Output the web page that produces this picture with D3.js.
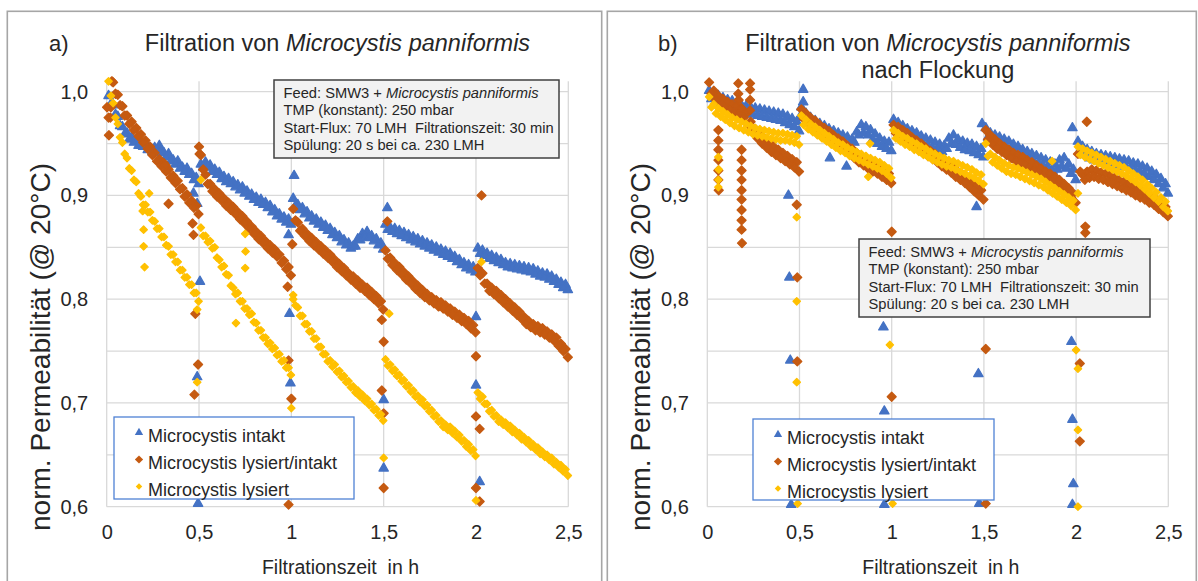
<!DOCTYPE html>
<html>
<head>
<meta charset="utf-8">
<script src="https://cdn.jsdelivr.net/npm/d3@7"></script>
<style>
  body { margin: 0; background: #fff; }
  svg { display: block; font-family: "Liberation Sans", Arial, sans-serif; }
</style>
</head>
<body>
<svg id="chart" width="1198" height="581"></svg>
<script>
// axis values
const xTicks = [0, 0.5, 1, 1.5, 2, 2.5];
const yTicks = [0.6, 0.7, 0.8, 0.9, 1.0];
const yGrid = [0.6, 0.65, 0.7, 0.75, 0.8, 0.85, 0.9, 0.95, 1.0];

const seriesNames = ['Microcystis intakt', 'Microcystis lysiert/intakt', 'Microcystis lysiert'];

// filtration cycles of 30 min; time inside a cycle in h
// each cycle is read as an upper and a lower edge of the scattered band
const cycleStarts = [0, 0.5, 1.0, 1.5, 2.0];
const offsetsUpper = [0.0100, 0.0350, 0.0600, 0.0850, 0.1100, 0.1350, 0.1600, 0.1850, 0.2100, 0.2350,
                      0.2600, 0.2850, 0.3100, 0.3350, 0.3600, 0.3850, 0.4100, 0.4350, 0.4600, 0.4850];
const offsetsLower = [0.0225, 0.0475, 0.0725, 0.0975, 0.1225, 0.1475, 0.1725, 0.1975, 0.2225, 0.2475,
                      0.2725, 0.2975, 0.3225, 0.3475, 0.3725, 0.3975, 0.4225, 0.4475, 0.4725, 0.4975];

// ---- a) without flocculation ----
const aIntaktUpper = [
    [0.996, 0.987, 0.976, 0.966, 0.960, 0.956, 0.954, 0.950, 0.951, 0.945, 0.946, 0.948, 0.941, 0.940, 0.934, 0.933, 0.927, 0.926, 0.921, 0.917],
    [0.930, 0.932, 0.929, 0.925, 0.922, 0.918, 0.916, 0.913, 0.910, 0.908, 0.904, 0.901, 0.898, 0.896, 0.893, 0.890, 0.886, 0.882, 0.879, 0.877],
    [0.897, 0.891, 0.888, 0.884, 0.880, 0.877, 0.874, 0.871, 0.868, 0.864, 0.861, 0.857, 0.854, 0.851, 0.858, 0.863, 0.865, 0.861, 0.858, 0.854],
    [0.872, 0.869, 0.868, 0.866, 0.864, 0.862, 0.860, 0.858, 0.856, 0.854, 0.852, 0.850, 0.848, 0.846, 0.844, 0.841, 0.838, 0.835, 0.833, 0.831],
    [0.849, 0.847, 0.844, 0.842, 0.840, 0.838, 0.835, 0.834, 0.833, 0.832, 0.831, 0.830, 0.829, 0.827, 0.825, 0.824, 0.822, 0.819, 0.816, 0.814]
];
const aIntaktLower = [
    [0.988, 0.978, 0.967, 0.959, 0.954, 0.951, 0.948, 0.947, 0.944, 0.942, 0.943, 0.941, 0.937, 0.933, 0.930, 0.926, 0.923, 0.920, 0.915, 0.911],
    [0.927, 0.927, 0.923, 0.920, 0.916, 0.913, 0.911, 0.908, 0.905, 0.902, 0.899, 0.896, 0.893, 0.891, 0.888, 0.884, 0.880, 0.877, 0.874, 0.872],
    [0.890, 0.886, 0.882, 0.878, 0.875, 0.872, 0.869, 0.866, 0.862, 0.859, 0.855, 0.852, 0.849, 0.851, 0.857, 0.860, 0.859, 0.856, 0.852, 0.848],
    [0.867, 0.865, 0.863, 0.861, 0.859, 0.857, 0.855, 0.853, 0.851, 0.849, 0.847, 0.845, 0.843, 0.841, 0.839, 0.836, 0.833, 0.830, 0.828, 0.826],
    [0.844, 0.842, 0.839, 0.837, 0.835, 0.833, 0.831, 0.830, 0.829, 0.828, 0.827, 0.826, 0.824, 0.822, 0.821, 0.819, 0.817, 0.814, 0.811, 0.809]
];
const aIntaktExtra = [[0.470, 0.902], [0.490, 0.892], [0.505, 0.817], [0.490, 0.725], [0.495, 0.603],
    [1.015, 0.919], [0.985, 0.862], [0.990, 0.786], [0.995, 0.719], [1.520, 0.888], [1.500, 0.703],
    [1.500, 0.637], [2.000, 0.783], [2.000, 0.717], [2.020, 0.624]];

const aLysIntUpper = [
    [0.975, 1.009, 0.997, 0.986, 0.977, 0.971, 0.965, 0.959, 0.953, 0.947, 0.941, 0.935, 0.931, 0.925, 0.919, 0.914, 0.907, 0.901, 0.895, 0.890],
    [0.939, 0.920, 0.911, 0.906, 0.902, 0.897, 0.893, 0.889, 0.884, 0.880, 0.875, 0.870, 0.865, 0.861, 0.856, 0.852, 0.848, 0.843, 0.837, 0.831],
    [0.887, 0.874, 0.868, 0.863, 0.859, 0.855, 0.851, 0.847, 0.843, 0.838, 0.834, 0.830, 0.825, 0.822, 0.818, 0.814, 0.811, 0.807, 0.803, 0.798],
    [0.847, 0.840, 0.835, 0.831, 0.826, 0.822, 0.817, 0.813, 0.809, 0.805, 0.802, 0.799, 0.797, 0.794, 0.791, 0.788, 0.785, 0.782, 0.779, 0.775],
    [0.830, 0.825, 0.815, 0.811, 0.808, 0.804, 0.800, 0.796, 0.792, 0.788, 0.783, 0.779, 0.776, 0.774, 0.772, 0.769, 0.766, 0.763, 0.757, 0.752]
];
const aLysIntLower = [
    [0.985, 0.998, 0.987, 0.977, 0.969, 0.963, 0.957, 0.951, 0.945, 0.939, 0.933, 0.928, 0.923, 0.917, 0.912, 0.906, 0.899, 0.893, 0.888, 0.882],
    [0.925, 0.911, 0.904, 0.899, 0.895, 0.890, 0.886, 0.882, 0.877, 0.873, 0.868, 0.863, 0.858, 0.854, 0.849, 0.845, 0.841, 0.835, 0.829, 0.823],
    [0.876, 0.866, 0.861, 0.856, 0.852, 0.848, 0.844, 0.840, 0.836, 0.831, 0.827, 0.823, 0.819, 0.815, 0.811, 0.808, 0.804, 0.800, 0.796, 0.790],
    [0.839, 0.833, 0.828, 0.824, 0.819, 0.815, 0.810, 0.806, 0.802, 0.799, 0.796, 0.793, 0.791, 0.788, 0.785, 0.782, 0.779, 0.776, 0.772, 0.768],
    [0.823, 0.815, 0.808, 0.805, 0.801, 0.797, 0.793, 0.789, 0.785, 0.781, 0.776, 0.773, 0.770, 0.768, 0.766, 0.763, 0.760, 0.755, 0.750, 0.744]
];
const aLysIntExtra = [[0.002, 0.985], [0.012, 0.958], [0.020, 0.975], [0.028, 1.010], [0.320, 0.929],
    [0.335, 0.892], [0.465, 0.873], [0.470, 0.862], [0.480, 0.786], [0.495, 0.737], [0.475, 0.708],
    [0.500, 0.947], [0.503, 0.940], [0.980, 0.812], [0.985, 0.741], [1.000, 0.704], [1.005, 0.853],
    [0.985, 0.602], [1.520, 0.875], [1.490, 0.780], [1.500, 0.759], [1.490, 0.712], [1.500, 0.690],
    [1.500, 0.618], [2.030, 0.900], [2.000, 0.745], [2.000, 0.687], [2.020, 0.675], [2.000, 0.618],
    [2.020, 0.605]];

const aLysUpper = [
    [1.010, 0.989, 0.969, 0.951, 0.936, 0.924, 0.913, 0.899, 0.891, 0.884, 0.875, 0.868, 0.860, 0.851, 0.843, 0.836, 0.828, 0.821, 0.814, 0.806],
    [0.869, 0.861, 0.856, 0.850, 0.838, 0.832, 0.823, 0.811, 0.806, 0.798, 0.791, 0.786, 0.777, 0.770, 0.763, 0.758, 0.753, 0.747, 0.741, 0.734],
    [0.804, 0.792, 0.784, 0.776, 0.769, 0.762, 0.754, 0.747, 0.741, 0.737, 0.731, 0.726, 0.721, 0.716, 0.712, 0.708, 0.704, 0.699, 0.694, 0.689],
    [0.742, 0.737, 0.732, 0.727, 0.722, 0.717, 0.712, 0.707, 0.703, 0.698, 0.693, 0.688, 0.683, 0.679, 0.677, 0.673, 0.669, 0.664, 0.660, 0.655],
    [0.710, 0.706, 0.699, 0.693, 0.688, 0.684, 0.681, 0.678, 0.674, 0.671, 0.667, 0.664, 0.660, 0.657, 0.653, 0.650, 0.647, 0.643, 0.640, 0.636]
];
const aLysLower = [
    [0.996, 0.975, 0.956, 0.940, 0.926, 0.915, 0.902, 0.891, 0.884, 0.876, 0.868, 0.860, 0.852, 0.843, 0.836, 0.828, 0.821, 0.814, 0.806, 0.798],
    [0.861, 0.855, 0.849, 0.840, 0.831, 0.824, 0.813, 0.805, 0.798, 0.791, 0.785, 0.778, 0.770, 0.763, 0.757, 0.752, 0.746, 0.740, 0.734, 0.727],
    [0.794, 0.784, 0.776, 0.769, 0.762, 0.754, 0.747, 0.740, 0.735, 0.730, 0.725, 0.720, 0.715, 0.710, 0.706, 0.702, 0.698, 0.693, 0.688, 0.683],
    [0.736, 0.731, 0.726, 0.721, 0.716, 0.711, 0.706, 0.701, 0.697, 0.692, 0.687, 0.682, 0.677, 0.674, 0.671, 0.667, 0.663, 0.658, 0.654, 0.649],
    [0.704, 0.699, 0.692, 0.687, 0.682, 0.679, 0.676, 0.672, 0.669, 0.665, 0.662, 0.658, 0.655, 0.651, 0.648, 0.645, 0.641, 0.638, 0.634, 0.630]
];
const aLysExtra = [[0.195, 0.885], [0.200, 0.867], [0.200, 0.851], [0.205, 0.831], [0.230, 0.902],
    [0.510, 0.915], [0.490, 0.790], [0.490, 0.720], [0.750, 0.863], [0.752, 0.846], [0.750, 0.830],
    [0.700, 0.777], [1.010, 0.800], [1.000, 0.695], [1.530, 0.786], [1.500, 0.647], [2.030, 0.836],
    [2.000, 0.606]];

// ---- b) after flocculation ----
const bIntaktUpper = [
    [1.001, 0.999, 0.996, 0.994, 0.992, 0.991, 0.989, 0.987, 0.986, 0.985, 0.984, 0.983, 0.982, 0.981, 0.980, 0.979, 0.978, 0.976, 0.974, 0.971],
    [0.985, 0.979, 0.975, 0.972, 0.969, 0.967, 0.964, 0.962, 0.960, 0.958, 0.956, 0.954, 0.961, 0.968, 0.966, 0.963, 0.959, 0.955, 0.952, 0.951],
    [0.973, 0.970, 0.967, 0.964, 0.962, 0.960, 0.957, 0.955, 0.953, 0.951, 0.949, 0.948, 0.955, 0.958, 0.954, 0.952, 0.950, 0.949, 0.947, 0.945],
    [0.965, 0.960, 0.958, 0.956, 0.954, 0.952, 0.949, 0.947, 0.944, 0.942, 0.940, 0.938, 0.936, 0.934, 0.932, 0.930, 0.934, 0.936, 0.930, 0.925],
    [0.952, 0.947, 0.944, 0.942, 0.940, 0.939, 0.938, 0.937, 0.936, 0.935, 0.934, 0.933, 0.931, 0.930, 0.928, 0.926, 0.923, 0.920, 0.916, 0.911]
];
const bIntaktLower = [
    [0.993, 0.991, 0.988, 0.986, 0.985, 0.983, 0.981, 0.980, 0.979, 0.978, 0.977, 0.976, 0.975, 0.974, 0.973, 0.972, 0.970, 0.968, 0.966, 0.962],
    [0.975, 0.970, 0.967, 0.964, 0.961, 0.959, 0.956, 0.954, 0.952, 0.950, 0.948, 0.951, 0.958, 0.960, 0.958, 0.954, 0.950, 0.947, 0.945, 0.943],
    [0.965, 0.962, 0.959, 0.956, 0.954, 0.952, 0.949, 0.947, 0.945, 0.943, 0.942, 0.945, 0.950, 0.949, 0.946, 0.944, 0.943, 0.941, 0.939, 0.937],
    [0.956, 0.952, 0.950, 0.948, 0.946, 0.944, 0.941, 0.939, 0.936, 0.934, 0.932, 0.930, 0.928, 0.926, 0.924, 0.925, 0.928, 0.926, 0.921, 0.915],
    [0.943, 0.939, 0.936, 0.934, 0.933, 0.932, 0.931, 0.930, 0.929, 0.928, 0.927, 0.925, 0.924, 0.922, 0.920, 0.918, 0.915, 0.911, 0.907, 0.902]
];
const bIntaktExtra = [[0.440, 0.900], [0.445, 0.821], [0.450, 0.741], [0.455, 0.602], [0.520, 1.002],
    [0.520, 0.990], [0.500, 0.975], [0.665, 0.936], [0.755, 0.928], [0.955, 0.773], [0.960, 0.692],
    [0.960, 0.602], [1.460, 0.889], [1.470, 0.728], [1.475, 0.603], [1.490, 0.969], [1.980, 0.965],
    [1.975, 0.759], [1.980, 0.684], [1.985, 0.622], [1.980, 0.602]];

const bLysIntUpper = [
    [1.009, 1.001, 0.996, 0.993, 0.990, 0.988, 0.986, 0.984, 0.979, 0.971, 0.964, 0.959, 0.955, 0.951, 0.947, 0.944, 0.941, 0.938, 0.935, 0.932],
    [0.983, 0.979, 0.975, 0.972, 0.968, 0.965, 0.962, 0.958, 0.955, 0.952, 0.948, 0.945, 0.941, 0.937, 0.934, 0.931, 0.929, 0.926, 0.923, 0.921],
    [0.968, 0.966, 0.963, 0.960, 0.956, 0.953, 0.950, 0.946, 0.943, 0.940, 0.937, 0.933, 0.930, 0.927, 0.923, 0.920, 0.917, 0.913, 0.909, 0.905],
    [0.963, 0.958, 0.954, 0.950, 0.947, 0.944, 0.941, 0.939, 0.937, 0.934, 0.932, 0.929, 0.926, 0.923, 0.921, 0.918, 0.915, 0.911, 0.907, 0.902],
    [0.940, 0.920, 0.923, 0.925, 0.924, 0.922, 0.921, 0.919, 0.917, 0.915, 0.913, 0.911, 0.908, 0.906, 0.904, 0.901, 0.899, 0.896, 0.892, 0.889]
];
const bLysIntLower = [
    [0.998, 0.992, 0.988, 0.985, 0.982, 0.980, 0.978, 0.975, 0.968, 0.961, 0.955, 0.950, 0.946, 0.942, 0.939, 0.936, 0.933, 0.930, 0.927, 0.923],
    [0.974, 0.970, 0.967, 0.963, 0.960, 0.957, 0.953, 0.950, 0.947, 0.943, 0.940, 0.936, 0.932, 0.929, 0.926, 0.923, 0.921, 0.918, 0.915, 0.912],
    [0.960, 0.958, 0.955, 0.951, 0.948, 0.945, 0.941, 0.938, 0.935, 0.932, 0.928, 0.925, 0.922, 0.918, 0.915, 0.912, 0.908, 0.904, 0.900, 0.896],
    [0.954, 0.949, 0.945, 0.942, 0.939, 0.936, 0.933, 0.931, 0.929, 0.926, 0.924, 0.921, 0.918, 0.915, 0.913, 0.910, 0.906, 0.902, 0.898, 0.893],
    [0.923, 0.915, 0.917, 0.918, 0.916, 0.915, 0.913, 0.911, 0.909, 0.907, 0.905, 0.903, 0.900, 0.898, 0.896, 0.893, 0.891, 0.887, 0.884, 0.880]
];
const bLysIntExtra = [[0.060, 0.963], [0.060, 0.953], [0.060, 0.944], [0.060, 0.934], [0.060, 0.924],
    [0.060, 0.915], [0.062, 0.905], [0.186, 0.944], [0.186, 0.934], [0.186, 0.924], [0.186, 0.915],
    [0.186, 0.905], [0.186, 0.896], [0.186, 0.886], [0.186, 0.876], [0.186, 0.867], [0.188, 0.854],
    [0.168, 1.008], [0.168, 0.998], [0.170, 0.992], [0.232, 1.008], [0.232, 1.002], [0.232, 0.992],
    [0.232, 0.982], [0.485, 0.891], [0.488, 0.821], [0.488, 0.740], [1.000, 0.865], [1.000, 0.706],
    [1.510, 0.752], [1.510, 0.603], [2.058, 0.971], [2.050, 0.870], [2.050, 0.864], [2.020, 0.738],
    [2.020, 0.663]];

const bLysUpper = [
    [0.995, 0.988, 0.984, 0.981, 0.978, 0.975, 0.973, 0.971, 0.969, 0.967, 0.965, 0.964, 0.963, 0.962, 0.961, 0.960, 0.960, 0.959, 0.958, 0.957],
    [0.977, 0.973, 0.969, 0.966, 0.963, 0.960, 0.957, 0.954, 0.951, 0.949, 0.946, 0.944, 0.942, 0.940, 0.938, 0.936, 0.934, 0.932, 0.929, 0.926],
    [0.963, 0.960, 0.957, 0.955, 0.952, 0.950, 0.947, 0.945, 0.942, 0.940, 0.938, 0.936, 0.934, 0.933, 0.931, 0.929, 0.927, 0.925, 0.922, 0.920],
    [0.950, 0.940, 0.937, 0.934, 0.931, 0.929, 0.927, 0.926, 0.924, 0.922, 0.920, 0.918, 0.916, 0.913, 0.910, 0.907, 0.904, 0.901, 0.898, 0.895],
    [0.947, 0.945, 0.943, 0.941, 0.939, 0.937, 0.935, 0.933, 0.931, 0.929, 0.927, 0.924, 0.921, 0.918, 0.915, 0.911, 0.907, 0.903, 0.898, 0.894]
];
const bLysLower = [
    [0.985, 0.979, 0.976, 0.973, 0.970, 0.967, 0.965, 0.963, 0.961, 0.959, 0.958, 0.957, 0.956, 0.955, 0.954, 0.953, 0.953, 0.952, 0.951, 0.949],
    [0.968, 0.964, 0.961, 0.958, 0.955, 0.952, 0.949, 0.946, 0.943, 0.941, 0.938, 0.936, 0.934, 0.932, 0.930, 0.928, 0.926, 0.924, 0.921, 0.917],
    [0.955, 0.952, 0.949, 0.947, 0.944, 0.942, 0.939, 0.937, 0.934, 0.932, 0.930, 0.928, 0.927, 0.925, 0.923, 0.921, 0.919, 0.917, 0.914, 0.911],
    [0.938, 0.932, 0.929, 0.926, 0.923, 0.921, 0.920, 0.918, 0.916, 0.914, 0.912, 0.910, 0.908, 0.905, 0.902, 0.899, 0.896, 0.893, 0.890, 0.886],
    [0.939, 0.937, 0.935, 0.933, 0.931, 0.929, 0.927, 0.925, 0.923, 0.921, 0.919, 0.916, 0.913, 0.910, 0.906, 0.902, 0.898, 0.894, 0.889, 0.885]
];
const bLysExtra = [[0.060, 0.937], [0.062, 0.925], [0.060, 0.915], [0.060, 0.908], [0.485, 0.879],
    [0.485, 0.798], [0.485, 0.720], [0.490, 0.603], [0.882, 0.950], [0.873, 0.918], [0.990, 0.756],
    [1.005, 0.603], [1.505, 0.610], [1.870, 0.933], [2.010, 0.902], [2.000, 0.751], [2.010, 0.733],
    [2.010, 0.674], [2.010, 0.600]];

const infoLines = [
    ['Feed: SMW3 + ', 'Microcystis panniformis'],
    ['TMP (konstant): 250 mbar', ''],
    ['Start-Flux: 70 LMH \u00a0Filtrationszeit: 30 min', ''],
    ['Sp\u00fclung: 20 s bei ca. 230 LMH', '']
];

const colors = ['#4472c4', '#c55a11', '#ffc000'];
const textColor = '#262626';
const gridColor = '#d9d9d9';

// markers carry a thin outline in their own colour, like the spreadsheet markers
const markers = [
    { type: d3.symbolTriangle, size: 38, legendSize: 30, rot: 0 },
    { type: d3.symbolSquare, size: 40, legendSize: 34, rot: 45 },
    { type: d3.symbolSquare, size: 27, legendSize: 21, rot: 45 }
];
const markerOutline = 1.3;

function toPoints(upper, lower, extra) {
    const pts = [];
    cycleStarts.forEach((start, c) => {
        upper[c].forEach((v, i) => pts.push([start + offsetsUpper[i], v]));
        lower[c].forEach((v, i) => pts.push([start + offsetsLower[i], v]));
    });
    return pts.concat(extra);
}

const svg = d3.select('#chart');

function drawPanel(cfg) {
    const g = svg.append('g');

    g.append('rect')
        .attr('x', cfg.box[0]).attr('y', 11.3)
        .attr('width', cfg.box[1]).attr('height', 600)
        .attr('fill', 'none').attr('stroke', '#a6a6a6').attr('stroke-width', 1.6);

    const x = d3.scaleLinear().domain([0, 2.5]).range([cfg.left, cfg.right]);
    const y = d3.scaleLinear().domain([0.6, 1.01]).range([506.7, 81.3]);

    // grid
    g.append('g').selectAll('line').data(yGrid).join('line')
        .attr('x1', cfg.left).attr('x2', cfg.right)
        .attr('y1', d => y(d)).attr('y2', d => y(d))
        .attr('stroke', gridColor).attr('stroke-width', 1.3);
    g.append('g').selectAll('line').data(xTicks).join('line')
        .attr('x1', d => x(d)).attr('x2', d => x(d))
        .attr('y1', y(1.01)).attr('y2', y(0.6))
        .attr('stroke', gridColor).attr('stroke-width', 1.3);

    // axes
    const yAxis = g.append('g')
        .attr('transform', `translate(${cfg.left}, 0)`)
        .call(d3.axisLeft(y).tickValues(yTicks).tickSize(0).tickPadding(18.5)
            .tickFormat(d => d3.format('.1f')(d).replace('.', ',')));
    const xAxis = g.append('g')
        .attr('transform', `translate(0, ${y(0.6)})`)
        .call(d3.axisBottom(x).tickValues(xTicks).tickSize(0).tickPadding(18.5)
            .tickFormat(d => String(d).replace('.', ',')));
    [yAxis, xAxis].forEach(a => {
        a.select('.domain').remove();
        a.attr('font-size', 20).attr('font-family', null);
        a.selectAll('text').attr('fill', textColor);
    });

    // points, series order: intakt, lysiert/intakt, lysiert
    cfg.series.forEach((s, k) => {
        const path = d3.symbol(markers[k].type, markers[k].size)();
        g.append('g').selectAll('path').data(toPoints(s[0], s[1], s[2])).join('path')
            .attr('d', path)
            .attr('transform', d => `translate(${x(d[0])}, ${y(d[1])}) rotate(${markers[k].rot})`)
            .attr('fill', colors[k])
            .attr('stroke', colors[k]).attr('stroke-width', markerOutline)
            .attr('stroke-linejoin', 'round');
    });

    // panel letter and title
    g.append('text').attr('x', cfg.letterX).attr('y', 51)
        .attr('font-size', 22).attr('fill', textColor).text(cfg.letter);
    const cx = (cfg.left + cfg.right) / 2;
    const title = g.append('text').attr('x', cx).attr('y', 51)
        .attr('text-anchor', 'middle').attr('font-size', 23.5).attr('fill', textColor);
    title.append('tspan').text('Filtration von ');
    title.append('tspan').attr('font-style', 'italic').text('Microcystis panniformis');
    if (cfg.subtitle) {
        g.append('text').attr('x', cx).attr('y', 78)
            .attr('text-anchor', 'middle').attr('font-size', 23.5).attr('fill', textColor)
            .text(cfg.subtitle);
    }

    // axis titles
    g.append('text')
        .attr('transform', `translate(${cfg.left - 57}, 347) rotate(-90)`)
        .attr('text-anchor', 'middle').attr('font-size', 28).attr('fill', textColor)
        .text('norm. Permeabilit\u00e4t (@ 20\u00b0C)');
    g.append('text').attr('x', cx + 3).attr('y', 574)
        .attr('text-anchor', 'middle').attr('font-size', 19.5).attr('fill', textColor)
        .text('Filtrationszeit \u00a0in h');

    // info box
    const ib = cfg.info;
    g.append('rect').attr('x', ib[0]).attr('y', ib[1]).attr('width', ib[2]).attr('height', ib[3])
        .attr('fill', '#f2f2f2').attr('stroke', '#404040').attr('stroke-width', 1.5);
    infoLines.forEach((ln, i) => {
        const t = g.append('text').attr('x', ib[0] + 9.5).attr('y', ib[1] + 17.5 + i * 17.6)
            .attr('font-size', 14.7).attr('fill', textColor);
        t.append('tspan').text(ln[0]);
        if (ln[1]) t.append('tspan').attr('font-style', 'italic').text(ln[1]);
    });

    // legend
    const lb = cfg.legend;
    g.append('rect').attr('x', lb[0]).attr('y', lb[1]).attr('width', lb[2]).attr('height', lb[3])
        .attr('fill', '#fff').attr('stroke', '#4f81d4').attr('stroke-width', 1.3);
    seriesNames.forEach((name, k) => {
        const yy = lb[1] + 15.5 + k * 27;
        g.append('path').attr('d', d3.symbol(markers[k].type, markers[k].legendSize)())
            .attr('transform', `translate(${lb[0] + 25}, ${yy}) rotate(${markers[k].rot})`)
            .attr('fill', colors[k]);
        g.append('text').attr('x', lb[0] + 34).attr('y', yy + 4.5)
            .attr('dominant-baseline', 'middle')
            .attr('font-size', 18).attr('fill', textColor).text(name);
    });
}

drawPanel({
    box: [7.3, 594.4], left: 106.7, right: 568.3, letter: 'a)', letterX: 49,
    series: [[aIntaktUpper, aIntaktLower, aIntaktExtra],
             [aLysIntUpper, aLysIntLower, aLysIntExtra],
             [aLysUpper, aLysLower, aLysExtra]],
    info: [274, 80, 285, 78], legend: [114, 417, 240, 82]
});
drawPanel({
    box: [607.3, 589], left: 707.3, right: 1168.3, letter: 'b)', letterX: 658,
    subtitle: 'nach Flockung',
    series: [[bIntaktUpper, bIntaktLower, bIntaktExtra],
             [bLysIntUpper, bLysIntLower, bLysIntExtra],
             [bLysUpper, bLysLower, bLysExtra]],
    info: [859, 239, 291, 78], legend: [753, 419, 241, 81]
});
</script>
</body>
</html>
